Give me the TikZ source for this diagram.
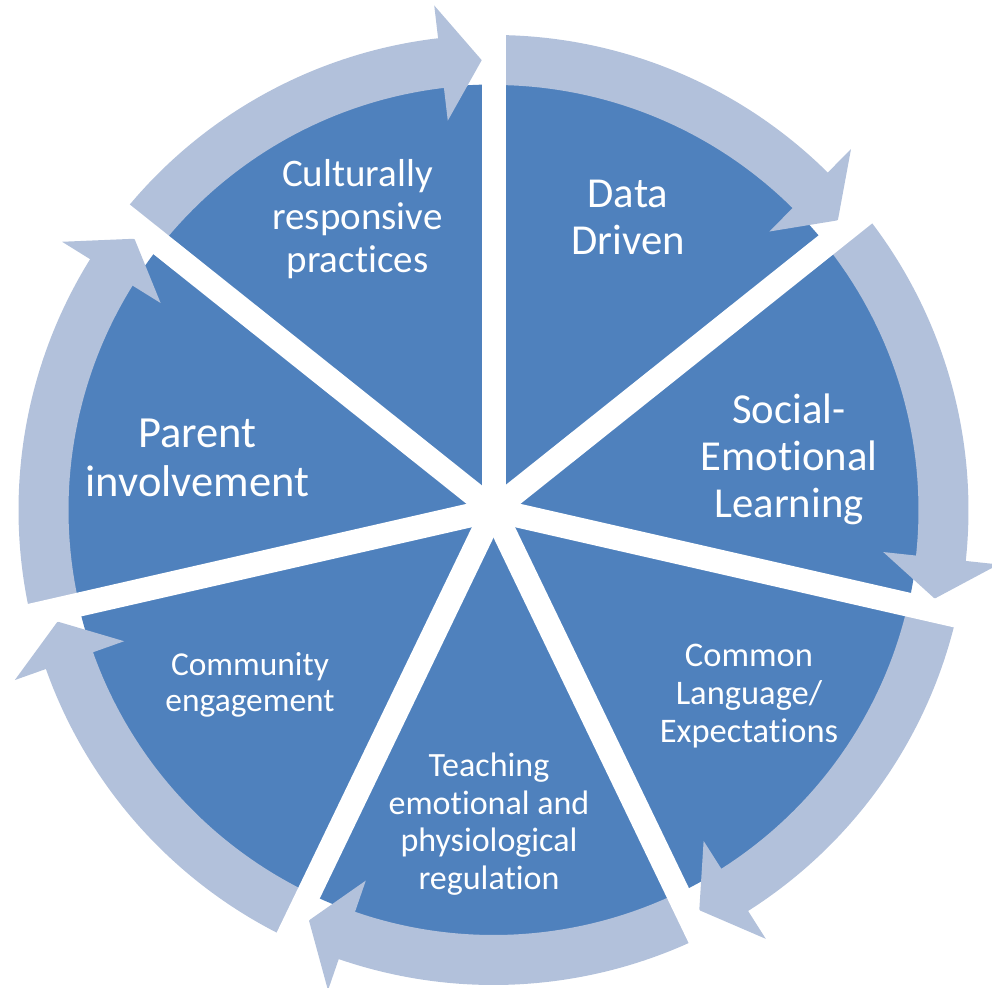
\documentclass[tikz,border=0pt]{standalone}
\usepackage{fontspec}
\setmainfont{Carlito}[Ligatures=NoCommon]
\definecolor{wedgeblue}{HTML}{4F81BD}
\definecolor{arrowblue}{HTML}{B2C1DB}
\newcommand\tstr{\rule{0pt}{0.8em}}
\newcommand\bstr{\rule[-0.3em]{0pt}{0.3em}}
\begin{document}
\begin{tikzpicture}[x=1pt,y=1pt,
  lbl/.style={text=white, align=center, inner sep=0pt},
  arrowshape/.style={fill=arrowblue},
  gapline/.style={draw=white, line width=24pt}]
\useasboundingbox (-493.5,-477) rectangle (498.5,510);
% disk of segments
\fill[wedgeblue] (0,0) circle[radius=425.5pt];
% circular arrows, clockwise over each segment
\foreach \s in {141.4286,90,38.5714,-12.8571,-64.2857,-115.7143,-167.1429}{
  \pgfmathsetmacro\e{\s-51.4286}
  \pgfmathsetmacro\t{\e+1.5}
  \pgfmathsetmacro\h{\e+6.7}
  \fill[arrowshape] (\s:475pt) arc[start angle=\s, end angle=\h, radius=475pt]
     -- (\h:508pt) -- (\t:450pt) -- (\h:392pt) -- (\h:425pt)
     arc[start angle=\h, end angle=\s, radius=425pt] -- cycle;
}
% white gaps
\foreach \a in {141.4286,90,38.5714,-12.8571,-64.2857,-115.7143,-167.1429}{
  \draw[gapline] (0,0) -- (\a:545pt);
}
% labels
\node[lbl, font=\fontsize{42.7pt}{47pt}\selectfont] (data) at (134.5,289.2) {\tstr Data\\Driven\bstr};
\node[lbl, font=\fontsize{42.7pt}{47pt}\selectfont] (sel) at (295.5,50.2) {\tstr Social-\\Emotional\\Learning\bstr};
\node[lbl, font=\fontsize{34.5pt}{38pt}\selectfont] (common) at (255.5,-185.4) {\tstr Common\\Language/\\Expectations\bstr};
\node[lbl, font=\fontsize{34pt}{37.5pt}\selectfont] (teach) at (-4.5,-314.5) {\tstr Teaching\\emotional and\\physiological\\regulation\bstr};
\node[lbl, font=\fontsize{33.4pt}{36pt}\selectfont] (community) at (-243.5,-175.5) {\tstr Community\\engagement\bstr};
\node[lbl, font=\fontsize{44.5pt}{49pt}\selectfont] (parent) at (-296,49.6) {\tstr Parent\\involvement\bstr};
\node[lbl, font=\fontsize{39pt}{43pt}\selectfont] (culture) at (-136,289.75) {\tstr Culturally\\responsive\\practices\bstr};
\end{tikzpicture}
\end{document}
